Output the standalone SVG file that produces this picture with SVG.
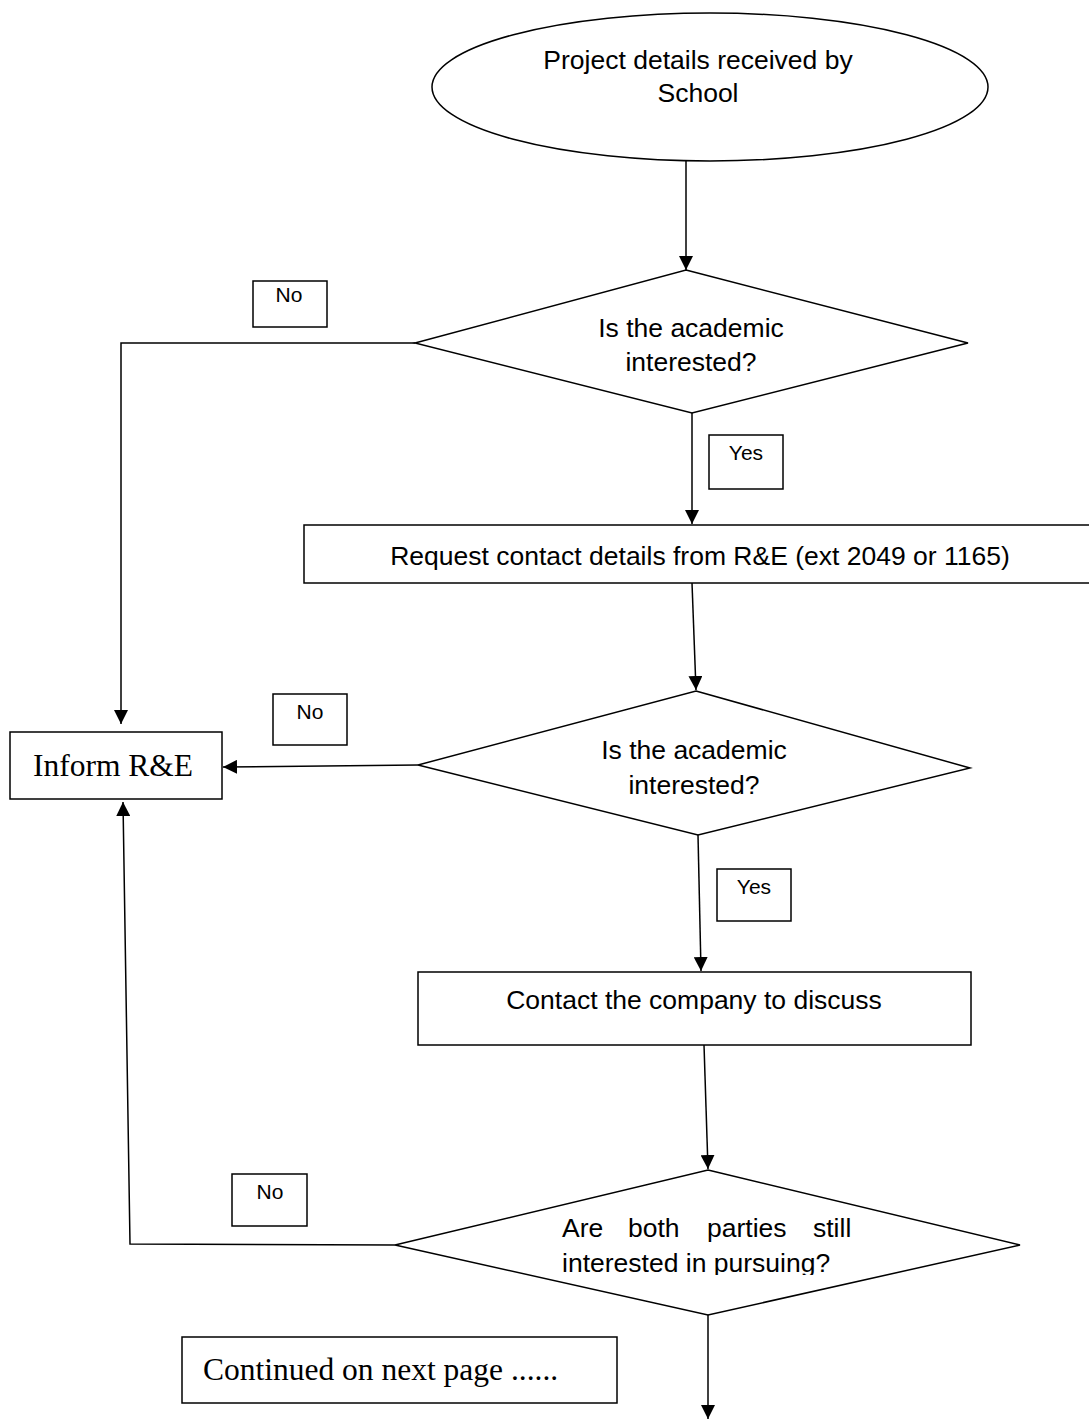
<svg xmlns="http://www.w3.org/2000/svg" width="1089" height="1419" viewBox="0 0 1089 1419">
<defs>
<marker id="ah" viewBox="0 0 10 10" refX="10" refY="5" markerWidth="14" markerHeight="14" markerUnits="userSpaceOnUse" orient="auto">
<path d="M0,0 L10,5 L0,10 z" fill="#000"/>
</marker>
<clipPath id="clip3"><rect x="380" y="1160" width="660" height="115"/></clipPath>
</defs>
<style>
.s{fill:#fff;stroke:#000;stroke-width:1.5}
.c{fill:none;stroke:#000;stroke-width:1.5}
.t{font-family:"Liberation Sans",Arial,sans-serif;font-size:26.5px;fill:#000}
.m{text-anchor:middle}
.l{font-family:"Liberation Sans",Arial,sans-serif;font-size:21px;fill:#000;text-anchor:middle}
.r{font-family:"Liberation Serif","Times New Roman",serif;font-size:31.5px;fill:#000}
</style>
<rect width="1089" height="1419" fill="#fff"/>
<g id="connectors">
<line class="c" x1="686" y1="160" x2="686" y2="270" marker-end="url(#ah)"/>
<polyline class="c" points="415,343 121,343 121,724" marker-end="url(#ah)"/>
<line class="c" x1="692" y1="413" x2="692" y2="524" marker-end="url(#ah)"/>
<line class="c" x1="692" y1="583" x2="696" y2="690" marker-end="url(#ah)"/>
<line class="c" x1="418" y1="765" x2="223" y2="767" marker-end="url(#ah)"/>
<line class="c" x1="698" y1="835" x2="701" y2="971" marker-end="url(#ah)"/>
<line class="c" x1="704" y1="1045" x2="708" y2="1169" marker-end="url(#ah)"/>
<polyline class="c" points="395,1245 130,1244 123,802" marker-end="url(#ah)"/>
<line class="c" x1="708" y1="1315" x2="708" y2="1419" marker-end="url(#ah)"/>
</g>
<g id="start">
<ellipse class="s" cx="710" cy="87" rx="278" ry="74"/>
<text class="t m" x="698" y="69">Project details received by</text>
<text class="t m" x="698" y="102">School</text>
</g>
<g id="decision1">
<polygon class="s" points="686,270 968,343 692,413 415,343"/>
<text class="t m" x="691" y="337">Is the academic</text>
<text class="t m" x="691" y="371">interested?</text>
</g>
<g id="no1">
<rect class="s" x="253" y="281" width="74" height="46"/>
<text class="l" x="289" y="302">No</text>
</g>
<g id="yes1">
<rect class="s" x="709" y="435" width="74" height="54"/>
<text class="l" x="746" y="460">Yes</text>
</g>
<g id="request">
<rect class="s" x="304" y="525" width="786" height="58"/>
<text class="t m" x="700" y="565">Request contact details from R&amp;E (ext 2049 or 1165)</text>
</g>
<g id="decision2">
<polygon class="s" points="696,691 970,768 698,835 418,765"/>
<text class="t m" x="694" y="759">Is the academic</text>
<text class="t m" x="694" y="794">interested?</text>
</g>
<g id="no2">
<rect class="s" x="273" y="694" width="74" height="51"/>
<text class="l" x="310" y="719">No</text>
</g>
<g id="inform">
<rect class="s" x="10" y="732" width="212" height="67"/>
<text class="r" x="113" y="776" text-anchor="middle">Inform R&amp;E</text>
</g>
<g id="yes2">
<rect class="s" x="717" y="869" width="74" height="52"/>
<text class="l" x="754" y="894">Yes</text>
</g>
<g id="contact">
<rect class="s" x="418" y="972" width="553" height="73"/>
<text class="t m" x="694" y="1009">Contact the company to discuss</text>
</g>
<g id="decision3">
<polygon class="s" points="708,1170 1020,1245 708,1315 395,1245"/>
<g clip-path="url(#clip3)">
<text class="t" y="1237"><tspan x="562">Are</tspan><tspan x="628">both</tspan><tspan x="707">parties</tspan><tspan x="813">still</tspan></text>
<text class="t" x="562" y="1272">interested in pursuing?</text>
</g>
</g>
<g id="no3">
<rect class="s" x="232" y="1174" width="75" height="52"/>
<text class="l" x="270" y="1199">No</text>
</g>
<g id="continued">
<rect class="s" x="182" y="1337" width="435" height="66"/>
<text class="r" x="203" y="1380">Continued on next page ......</text>
</g>
</svg>
